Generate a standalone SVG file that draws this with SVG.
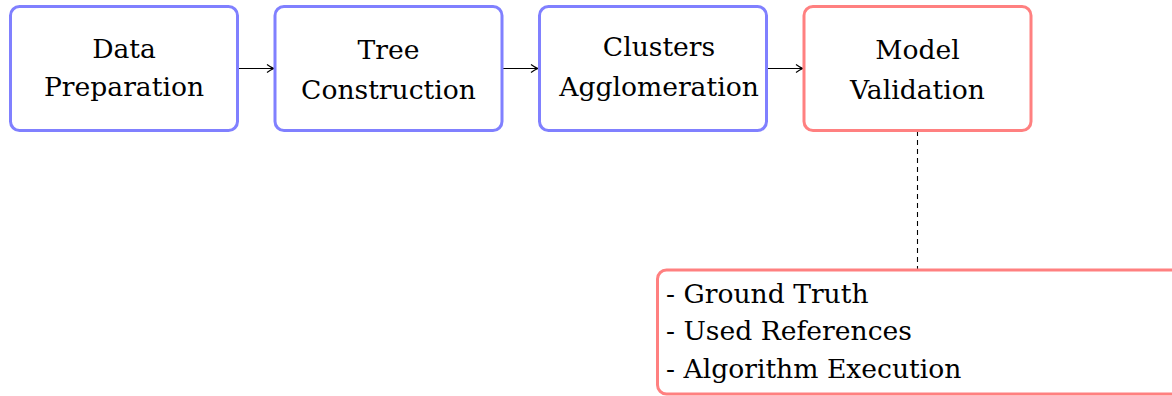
<svg xmlns="http://www.w3.org/2000/svg" width="1172" height="396" viewBox="0 0 1172 396">
<style>
.t{font-family:"DejaVu Serif","Liberation Serif",serif;font-size:26.6px;fill:#000}
.c{text-anchor:middle}
.b{fill:#fff;stroke:#8080ff;stroke-width:3}
.r{fill:#fff;stroke:#ff8080;stroke-width:3}
.e{stroke:#000;stroke-width:1.1;fill:none}
</style>
<defs>
<marker id="ah" markerWidth="10" markerHeight="10" refX="8" refY="5" orient="auto" markerUnits="userSpaceOnUse">
<path d="M1,1 Q5,4 8,5 Q5,6 1,9" fill="none" stroke="#000" stroke-width="1.1"/>
</marker>
</defs>
<g id="connectors">
<line class="e" x1="237" y1="68.5" x2="274" y2="68.5" marker-end="url(#ah)"/>
<line class="e" x1="502" y1="68.5" x2="538" y2="68.5" marker-end="url(#ah)"/>
<line class="e" x1="766" y1="68.5" x2="803" y2="68.5" marker-end="url(#ah)"/>
<line class="e" x1="917.5" y1="131" x2="917.5" y2="270" stroke-dasharray="5,4"/>
</g>
<g id="n1"><rect class="b" x="10.5" y="6.5" width="227" height="124" rx="9"/>
<text class="t c" x="124" y="58">Data</text><text class="t c" x="124" y="96">Preparation</text></g>
<g id="n2"><rect class="b" x="275" y="6.5" width="227" height="124" rx="9"/>
<text class="t c" x="388.5" y="59">Tree</text><text class="t c" x="388.5" y="99">Construction</text></g>
<g id="n3"><rect class="b" x="539.5" y="6.5" width="227" height="124" rx="9"/>
<text class="t c" x="659" y="56">Clusters</text><text class="t c" x="659" y="96">Agglomeration</text></g>
<g id="n4"><rect class="r" x="804" y="6.5" width="227" height="124" rx="9"/>
<text class="t c" x="917.5" y="59">Model</text><text class="t c" x="917.5" y="99">Validation</text></g>
<g id="n5"><rect class="r" x="657.5" y="270" width="530" height="124" rx="9"/>
<text class="t" x="666" y="303">- Ground Truth</text>
<text class="t" x="666" y="340">- Used References</text>
<text class="t" x="666" y="378">- Algorithm Execution</text></g>
</svg>
